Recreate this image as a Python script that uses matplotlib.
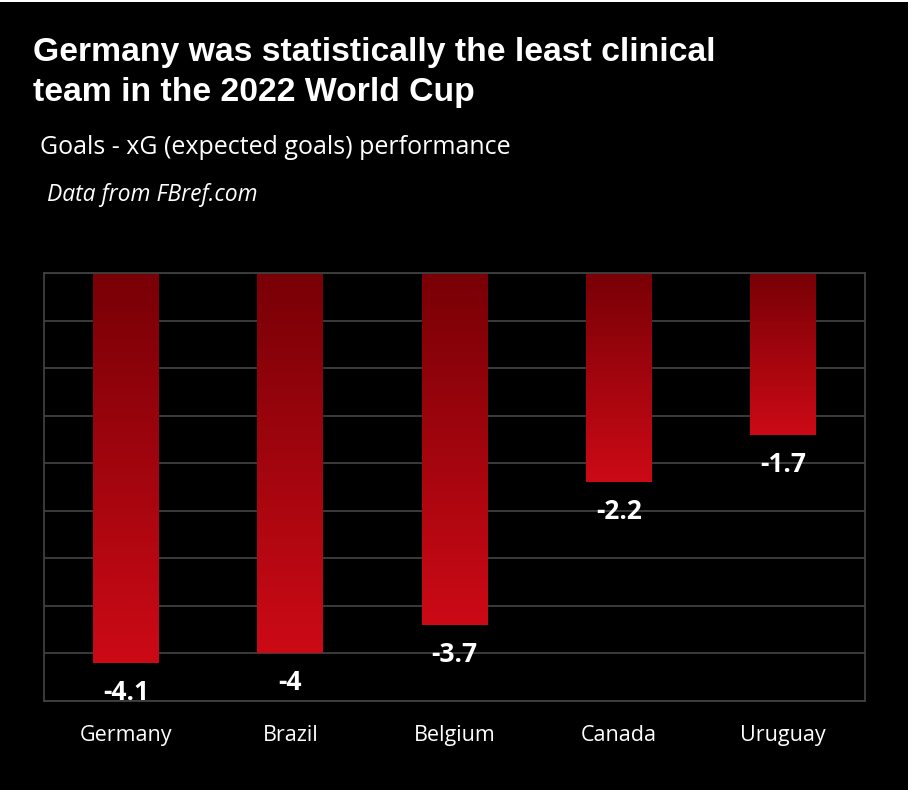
import matplotlib
matplotlib.use("Agg")
import matplotlib.pyplot as plt
import numpy as np
from matplotlib.colors import LinearSegmentedColormap
from matplotlib.patches import Rectangle

teams = ["Germany", "Brazil", "Belgium", "Canada", "Uruguay"]
values = [-4.1, -4.0, -3.7, -2.2, -1.7]
value_labels = ["-4.1", "-4", "-3.7", "-2.2", "-1.7"]

title = "Germany was statistically the least clinical\nteam in the 2022 World Cup"
subtitle = "Goals - xG (expected goals) performance"
source = "Data from FBref.com"

W, H = 912, 790
fig = plt.figure(figsize=(W / 100, H / 100), dpi=100, facecolor="white")
# black background panel (thin white edge at top/right like reference)
fig.patches.append(Rectangle((0, 0), 908 / W, 788 / H, transform=fig.transFigure,
                             facecolor="black", edgecolor="none", zorder=-10))

ax = fig.add_axes([44 / W, 1 - 701 / H, (865 - 44) / W, (701 - 273) / H])
ax.set_zorder(1)
ax.set_facecolor("black")
ax.set_xlim(-0.5, len(teams) - 0.5)
ax.set_ylim(-4.5, 0)
ax.set_yticks(np.arange(-4.5, 0.01, 0.5))
ax.yaxis.grid(True, color="#404040", linewidth=1.3)
ax.set_axisbelow(True)
ax.tick_params(axis="y", left=False, labelleft=False)
ax.tick_params(axis="x", bottom=False, length=0, pad=17,
               labelsize=15.5, labelcolor="white")
for s in ax.spines.values():
    s.set_color("#404040")
    s.set_linewidth(1.3)

cmap = LinearSegmentedColormap.from_list("redgrad", ["#780006", "#cc0a16"])
grad = np.linspace(0, 1, 256).reshape(-1, 1)

x = np.arange(len(teams))
bars = ax.bar(x, values, width=0.4, color="none", edgecolor="none", zorder=2)
for b in bars:
    x0, w = b.get_x(), b.get_width()
    y0 = b.get_y() + b.get_height()
    y1 = b.get_y()
    im = ax.imshow(grad, cmap=cmap, aspect="auto",
                   extent=(x0, x0 + w, y0, y1), origin="upper", zorder=2,
                   interpolation="bilinear")
    im.set_clip_path(b)
ax.set_xlim(-0.5, len(teams) - 0.5)
ax.set_ylim(-4.5, 0)

for xi, v, lab in zip(x, values, value_labels):
    ax.annotate(lab, (xi, v), xytext=(0, -11.5), textcoords="offset points",
                ha="center", va="top", color="white", fontsize=19,
                fontweight="bold", family="Open Sans", zorder=3)

ax.set_xticks(x)
ax.set_xticklabels(teams, family="Open Sans")

fig.text(33 / W, 1 - 37 / H, title, ha="left", va="top", color="white",
         fontsize=24.3, fontweight="bold", family="Liberation Sans",
         linespacing=1.38)
fig.text(40 / W, 1 - 147 / H, subtitle, ha="left", va="center", color="white",
         fontsize=18, family="Open Sans")
fig.text(47 / W, 1 - 195 / H, source, ha="left", va="center", color="white",
         fontsize=16.5, style="italic", family="Open Sans")

fig.savefig("out.png", dpi=100, facecolor=fig.get_facecolor())
